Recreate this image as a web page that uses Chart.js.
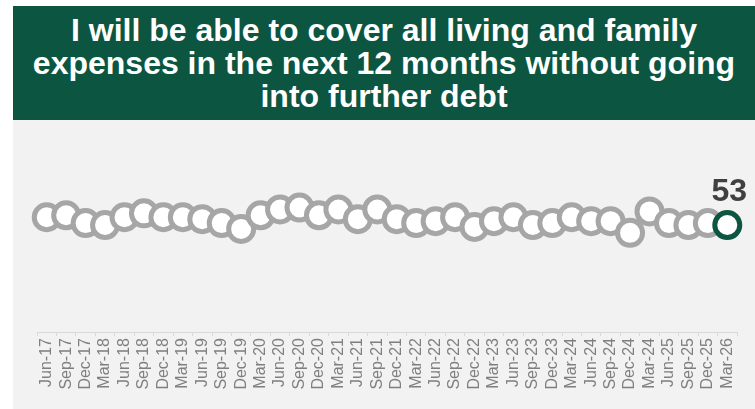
<!DOCTYPE html>
<html>
<head>
<meta charset="utf-8">
<script src="https://cdn.jsdelivr.net/npm/chart.js@4"></script>
<style>
  html, body { margin: 0; padding: 0; background: #ffffff; }
  body { width: 755px; height: 409px; position: relative; overflow: hidden; }
  #title {
    position: absolute; left: 13px; top: 6px; width: 742px; height: 114px;
    background: #0C5540; color: #ffffff; text-align: center;
    font-family: "Liberation Sans", Arial, sans-serif; font-weight: bold;
    font-size: 32px; line-height: 33px; box-sizing: border-box; padding-top: 8px;
  }
  #wrap { position: absolute; left: 13px; top: 120px; width: 742px; height: 289px; background: #F2F2F2; }
</style>
</head>
<body>
<div id="title">I will be able to cover all living and family<br>expenses in the next 12 months without going<br>into further debt</div>
<div id="wrap"><canvas id="c"></canvas></div>
<script>
const labels = ['Jun-17','Sep-17','Dec-17','Mar-18','Jun-18','Sep-18','Dec-18','Mar-19','Jun-19','Sep-19','Dec-19','Mar-20','Jun-20','Sep-20','Dec-20','Mar-21','Jun-21','Sep-21','Dec-21','Mar-22','Jun-22','Sep-22','Dec-22','Mar-23','Jun-23','Sep-23','Dec-23','Mar-24','Jun-24','Sep-24','Dec-24','Mar-24','Jun-25','Sep-25','Dec-25','Mar-26'];
const values = [57,58,54,53,57,59,57,57,56,54,51,58,61,62,58,61,56,61,56,54,55,57,52,55,57,53,54,57,55,55,49,60,54,53,54,53];

const GREY = '#A6A6A6';
const GREEN = '#0C5540';

const lastLabel = {
  id: 'lastLabel',
  afterDatasetsDraw(chart) {
    const meta = chart.getDatasetMeta(0);
    const i = values.length - 1;
    const pt = meta.data[i];
    const ctx = chart.ctx;
    ctx.save();
    ctx.font = 'bold 32px "Liberation Sans", Arial, sans-serif';
    ctx.fillStyle = '#404040';
    ctx.textAlign = 'center';
    ctx.textBaseline = 'alphabetic';
    ctx.fillText(String(values[i]), pt.x + 2, pt.y - 24);
    ctx.restore();
  }
};

new Chart(document.getElementById('c'), {
  type: 'line',
  data: {
    labels: labels,
    datasets: [{
      data: values,
      showLine: false,
      pointRadius: 12.5,
      pointHoverRadius: 12.5,
      pointBorderWidth: 5,
      pointBackgroundColor: '#ffffff',
      pointBorderColor: (c) => c.dataIndex === values.length - 1 ? GREEN : GREY,
      clip: false
    }]
  },
  options: {
    responsive: true,
    maintainAspectRatio: false,
    devicePixelRatio: 1,
    animation: false,
    events: [],
    layout: { padding: { left: 24, right: 18, top: 5, bottom: 0 } },
    plugins: { legend: { display: false }, tooltip: { enabled: false }, title: { display: false } },
    scales: {
      y: { display: false, min: -2, max: 98 },
      x: {
        offset: true,
        afterFit: (s) => { s.height = 77; },
        border: { display: true, color: '#D9D9D9', width: 1 },
        grid: { display: true, offset: true, drawOnChartArea: false, drawTicks: true, tickLength: 4, color: '#D9D9D9' },
        ticks: {
          autoSkip: false, maxRotation: 90, minRotation: 90, padding: 2,
          color: '#7F7F7F', font: { family: '"Liberation Sans", Arial, sans-serif', size: 16 }
        }
      }
    }
  },
  plugins: [lastLabel]
});
</script>
</body>
</html>
